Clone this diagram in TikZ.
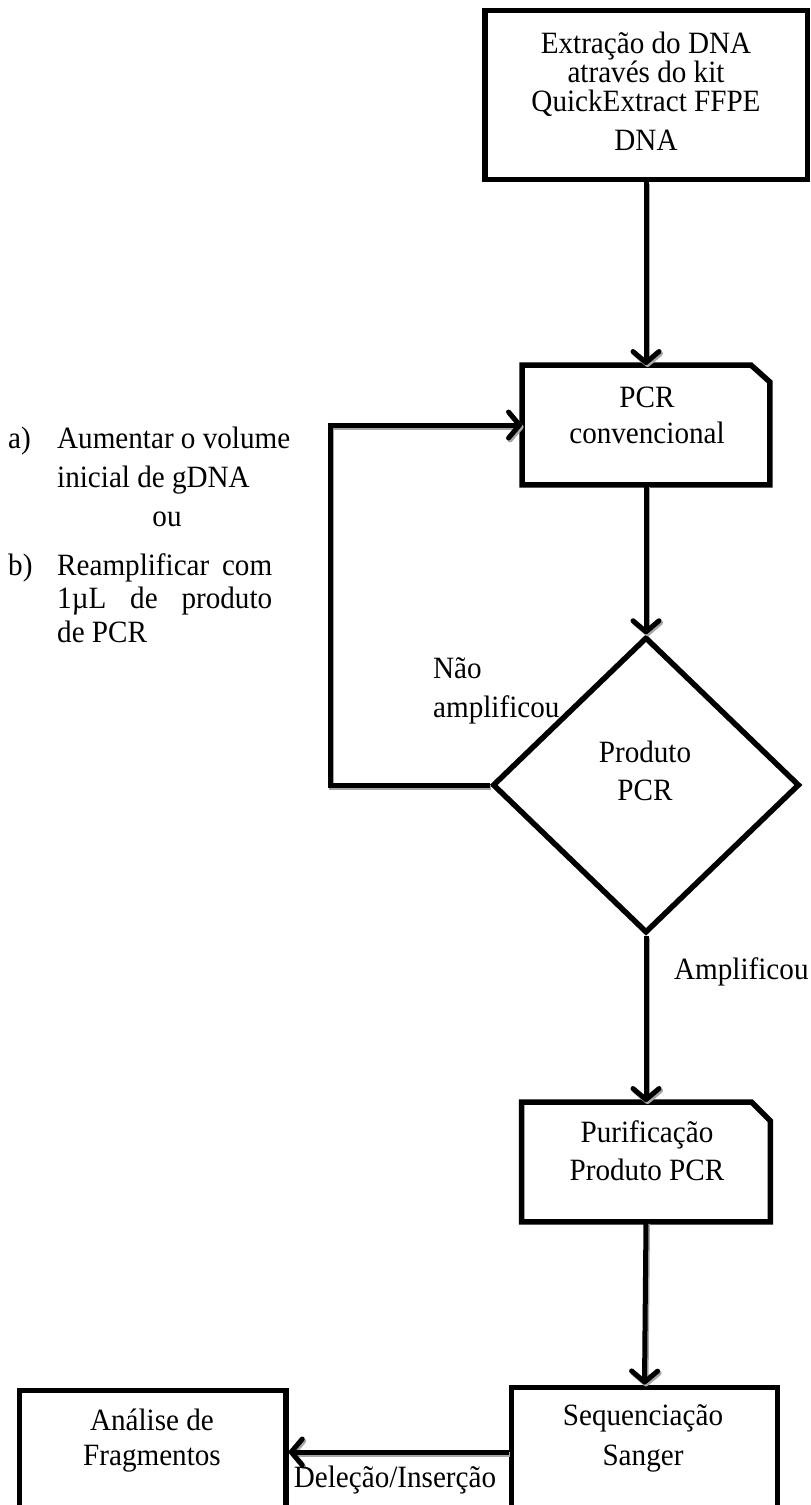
\documentclass[tikz,border=0pt]{standalone}
\usepackage{fontspec}
\setmainfont{Liberation Serif}[FakeStretch=0.94]
\usetikzlibrary{arrows.meta,shapes.geometric}
\begin{document}
\begin{tikzpicture}[x=1pt,y=-1pt,
  frame/.style={draw, line width=5.5pt, inner sep=0pt},
  hid/.style={draw=none, inner sep=0pt},
  txt/.style={inner sep=0pt, font=\fontsize{31}{34}\selectfont},
  conn/.style={line width=5pt, line join=miter,
    preaction={draw=black!35, line width=5pt, transform canvas={shift={(1.5pt,-2pt)}}}},
  arr/.style={conn, -{Straight Barb[length=11pt,width=26pt,round]}}]
\clip (0,0) rectangle (811,1505);
\fill[white] (0,0) rectangle (811,1505);

% boxes
\node[frame, minimum width=322.5pt, minimum height=169pt] (ext) at (646,95) {};
\node[hid, minimum width=247.5pt, minimum height=119.5pt] (pcr) at (646,425) {};
\draw[line width=5.5pt] (pcr.south west) -- (pcr.north west) -- ([xshift=-19pt]pcr.north east)
  -- ([yshift=-17pt]pcr.north east) -- (pcr.south east) -- cycle;
\node[frame, diamond, minimum width=307pt, minimum height=296pt] (dia) at (646,785) {};
\node[hid, minimum width=248.5pt, minimum height=119.5pt] (pur) at (646,1162) {};
\draw[line width=5.5pt] (pur.south west) -- (pur.north west) -- ([xshift=-19pt]pur.north east)
  -- ([yshift=-19pt]pur.north east) -- (pur.south east) -- cycle;
\node[frame, minimum width=266pt, minimum height=129.5pt] (seq) at (644.5,1452) {};
\node[frame, minimum width=266.5pt, minimum height=123pt] (ana) at (152.75,1452) {};

% texts in boxes
\node[txt, anchor=base] (e1) at (646,53) {Extração do DNA};
\node[txt, anchor=base] (e2) at (646,82) {através do kit};
\node[txt, anchor=base] (e3) at (646,111) {QuickExtract FFPE};
\node[txt, anchor=base] (e4) at (646,150) {DNA};
\node[txt, anchor=base] (p1) at (647,407) {PCR};
\node[txt, anchor=base] (p2) at (647,443) {convencional};
\node[txt, anchor=base] (d1) at (645,762) {Produto};
\node[txt, anchor=base] (d2) at (645,800) {PCR};
\node[txt, anchor=base] (u1) at (647,1142) {Purificação};
\node[txt, anchor=base] (u2) at (647,1180) {Produto PCR};
\node[txt, anchor=base] (s1) at (643,1425) {Sequenciação};
\node[txt, anchor=base] (s2) at (643,1465) {Sanger};
\node[txt, anchor=base] (a1) at (152,1430) {Análise de};
\node[txt, anchor=base] (a2) at (152,1465) {Fragmentos};

% connectors
\coordinate (loopc) at (330,600);
\draw[arr] (ext.south) -- (pcr.north);
\draw[arr] (pcr.south) -- (dia.north);
\draw[arr] (dia.west) -| (loopc) |- (pcr.west);
\draw[arr] (dia.south) -- (pur.north);
\draw[arr] (pur.south) -- (seq.north);
\draw[arr] (seq.west) -- (ana.east);

% labels
\node[txt, anchor=base west] (n1) at (433,678) {Não};
\node[txt, anchor=base west] (n2) at (433,717) {amplificou};
\node[txt, anchor=base west] (am) at (674,979) {Amplificou};
\node[txt, anchor=base] (di) at (395,1487) {Deleção/Inserção};

% side notes
\node[txt, anchor=base west] (la) at (8,448) {a)};
\node[txt, anchor=base west] (l1) at (57,448) {Aumentar o volume};
\node[txt, anchor=base west] (l2) at (57,487) {inicial de gDNA};
\node[txt, anchor=base] (l3) at (167,526) {ou};
\node[txt, anchor=base west] (lb) at (8,575) {b)};
\node[txt, anchor=base west] (l4) at (57,575) {\hbox to 215pt{Reamplificar\hfill com}};
\node[txt, anchor=base west] (l5) at (57,608) {\hbox to 215pt{1µL\hfill de\hfill produto}};
\node[txt, anchor=base west] (l6) at (57,642) {de PCR};
\end{tikzpicture}
\end{document}
